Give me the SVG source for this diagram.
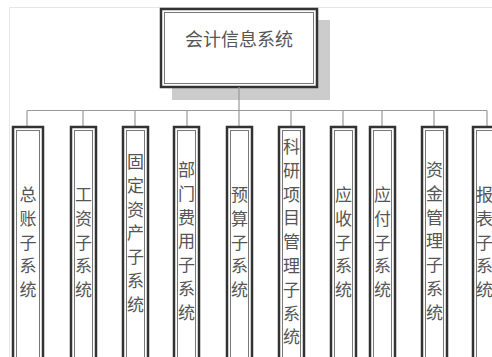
<svg xmlns="http://www.w3.org/2000/svg" width="492" height="357" viewBox="0 0 492 357">
<style>
.frame{fill:none;stroke:#e6e6e6;stroke-width:1}
.conn{fill:none;stroke:#999;stroke-width:1.2}
.outer{fill:#fff;stroke:#333;stroke-width:2.5}
.inner{fill:none;stroke:#777;stroke-width:1}
.shadow{fill:#cccccc}
.lbl{font-family:"Noto Sans CJK SC","Noto Sans",sans-serif;font-size:17px;fill:#555;text-anchor:middle}
.title{font-family:"Noto Sans CJK SC","Noto Sans",sans-serif;font-size:18px;fill:#555;text-anchor:middle}
</style>
<rect width="492" height="357" fill="#fff"/>
<path class="frame" d="M9.5,357 V7.5 H492"/>
<g id="root">
<rect class="shadow" x="172" y="20" width="158" height="80"/>
<rect class="outer" x="161" y="9" width="156" height="78"/>
<rect class="inner" x="164.5" y="12.5" width="149" height="71"/>
<text class="title" x="239" y="46">会计信息系统</text>
</g>
<g id="connectors">
<path class="conn" d="M239,87 V110.5 M27,110.5 H487 M27,110.5 V126 M83,110.5 V126 M135,110.5 V126 M187,110.5 V126 M239,110.5 V126 M291,110.5 V126 M343,110.5 V126 M382,110.5 V126 M434,110.5 V126 M487,110.5 V126"/>
</g>
<g id="n1">
<rect class="outer" x="13" y="127" width="30" height="240"/>
<rect class="inner" x="16.5" y="130.5" width="23" height="240"/>
<text class="lbl"><tspan x="28" y="201">总</tspan><tspan x="28" dy="23.8">账</tspan><tspan x="28" dy="23.8">子</tspan><tspan x="28" dy="23.8">系</tspan><tspan x="28" dy="23.8">统</tspan></text>
</g>
<g id="n2">
<rect class="outer" x="71" y="127" width="25" height="240"/>
<rect class="inner" x="74.5" y="130.5" width="18" height="240"/>
<text class="lbl"><tspan x="83.5" y="201">工</tspan><tspan x="83.5" dy="23.8">资</tspan><tspan x="83.5" dy="23.8">子</tspan><tspan x="83.5" dy="23.8">系</tspan><tspan x="83.5" dy="23.8">统</tspan></text>
</g>
<g id="n3">
<rect class="outer" x="123" y="127" width="25" height="240"/>
<rect class="inner" x="126.5" y="130.5" width="18" height="240"/>
<text class="lbl"><tspan x="135.5" y="168">固</tspan><tspan x="135.5" dy="23.8">定</tspan><tspan x="135.5" dy="23.8">资</tspan><tspan x="135.5" dy="23.8">产</tspan><tspan x="135.5" dy="23.8">子</tspan><tspan x="135.5" dy="23.8">系</tspan><tspan x="135.5" dy="23.8">统</tspan></text>
</g>
<g id="n4">
<rect class="outer" x="174" y="127" width="25" height="240"/>
<rect class="inner" x="177.5" y="130.5" width="18" height="240"/>
<text class="lbl"><tspan x="186.5" y="176">部</tspan><tspan x="186.5" dy="23.8">门</tspan><tspan x="186.5" dy="23.8">费</tspan><tspan x="186.5" dy="23.8">用</tspan><tspan x="186.5" dy="23.8">子</tspan><tspan x="186.5" dy="23.8">系</tspan><tspan x="186.5" dy="23.8">统</tspan></text>
</g>
<g id="n5">
<rect class="outer" x="227" y="127" width="25" height="240"/>
<rect class="inner" x="230.5" y="130.5" width="18" height="240"/>
<text class="lbl"><tspan x="239.5" y="201">预</tspan><tspan x="239.5" dy="23.8">算</tspan><tspan x="239.5" dy="23.8">子</tspan><tspan x="239.5" dy="23.8">系</tspan><tspan x="239.5" dy="23.8">统</tspan></text>
</g>
<g id="n6">
<rect class="outer" x="279" y="127" width="25" height="240"/>
<rect class="inner" x="282.5" y="130.5" width="18" height="240"/>
<text class="lbl"><tspan x="291.5" y="153">科</tspan><tspan x="291.5" dy="23.8">研</tspan><tspan x="291.5" dy="23.8">项</tspan><tspan x="291.5" dy="23.8">目</tspan><tspan x="291.5" dy="23.8">管</tspan><tspan x="291.5" dy="23.8">理</tspan><tspan x="291.5" dy="23.8">子</tspan><tspan x="291.5" dy="23.8">系</tspan><tspan x="291.5" dy="23.8">统</tspan></text>
</g>
<g id="n7">
<rect class="outer" x="331" y="127" width="25" height="240"/>
<rect class="inner" x="334.5" y="130.5" width="18" height="240"/>
<text class="lbl"><tspan x="343.5" y="201">应</tspan><tspan x="343.5" dy="23.8">收</tspan><tspan x="343.5" dy="23.8">子</tspan><tspan x="343.5" dy="23.8">系</tspan><tspan x="343.5" dy="23.8">统</tspan></text>
</g>
<g id="n8">
<rect class="outer" x="370" y="127" width="25" height="240"/>
<rect class="inner" x="373.5" y="130.5" width="18" height="240"/>
<text class="lbl"><tspan x="382.5" y="201">应</tspan><tspan x="382.5" dy="23.8">付</tspan><tspan x="382.5" dy="23.8">子</tspan><tspan x="382.5" dy="23.8">系</tspan><tspan x="382.5" dy="23.8">统</tspan></text>
</g>
<g id="n9">
<rect class="outer" x="422" y="127" width="25" height="240"/>
<rect class="inner" x="425.5" y="130.5" width="18" height="240"/>
<text class="lbl"><tspan x="434.5" y="176">资</tspan><tspan x="434.5" dy="23.8">金</tspan><tspan x="434.5" dy="23.8">管</tspan><tspan x="434.5" dy="23.8">理</tspan><tspan x="434.5" dy="23.8">子</tspan><tspan x="434.5" dy="23.8">系</tspan><tspan x="434.5" dy="23.8">统</tspan></text>
</g>
<g id="n10">
<rect class="outer" x="473" y="127" width="30" height="240"/>
<rect class="inner" x="476.5" y="130.5" width="23" height="240"/>
<text class="lbl"><tspan x="484.5" y="201">报</tspan><tspan x="484.5" dy="23.8">表</tspan><tspan x="484.5" dy="23.8">子</tspan><tspan x="484.5" dy="23.8">系</tspan><tspan x="484.5" dy="23.8">统</tspan></text>
</g>
</svg>
